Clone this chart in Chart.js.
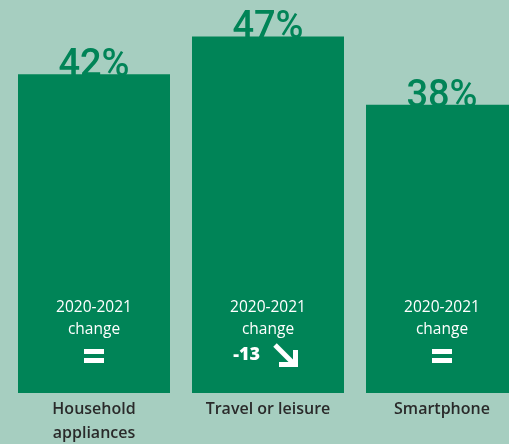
<!DOCTYPE html>
<html lang="en">
<head>
<meta charset="utf-8" />
<title>Share by category</title>
<script src="https://cdn.jsdelivr.net/npm/chart.js@4.4.1/dist/chart.umd.min.js"></script>
<style>
  html, body { margin: 0; padding: 0; background: #a6cec0; overflow: hidden; }
  #wrap { width: 536px; height: 444px; }
</style>
</head>
<body>
<div id="wrap"><canvas id="chart"></canvas></div>
<script>
// categories and values
var categories = [["Household", "appliances"], "Travel or leisure", "Smartphone"];
var shares = [42, 47, 38];
var shareLabels = ["42%", "47%", "38%"];
// 2020-2021 change in points (0 = unchanged)
var changes = [0, -13, 0];

var green = "#008457";

// percentage above each bar, drawn before the bars so the bar covers its foot
var topLabels = {
  id: "topLabels",
  beforeDatasetsDraw: function(chart) {
    var ctx = chart.ctx;
    var bars = chart.getDatasetMeta(0).data;
    ctx.save();
    ctx.fillStyle = green;
    ctx.font = "500 38px Roboto";
    ctx.textAlign = "center";
    ctx.textBaseline = "alphabetic";
    bars.forEach(function(bar, i) {
      ctx.fillText(shareLabels[i], bar.x, bar.y + 2);
    });
    ctx.restore();
  }
};

// "2020-2021 change" block inside each bar
var changeLabels = {
  id: "changeLabels",
  afterDatasetsDraw: function(chart) {
    var ctx = chart.ctx;
    var bars = chart.getDatasetMeta(0).data;
    var base = chart.scales.y.getPixelForValue(0);
    ctx.save();
    ctx.fillStyle = "#ffffff";
    ctx.strokeStyle = "#ffffff";
    bars.forEach(function(bar, i) {
      var cx = bar.x;
      ctx.textAlign = "center";
      ctx.textBaseline = "alphabetic";
      ctx.font = "500 15.5px 'Open Sans'";
      ctx.fillText("2020-2021", cx, base - 81);
      ctx.fillText("change", cx, base - 59);
      if (changes[i] === 0) {
        // equals sign
        ctx.fillRect(cx - 10, base - 44, 20, 5);
        ctx.fillRect(cx - 10, base - 35, 20, 5);
      } else {
        ctx.font = "800 18px 'Open Sans'";
        ctx.textAlign = "right";
        ctx.fillText(String(changes[i]), cx - 8, base - 33);
        // down-right arrow
        ctx.lineWidth = 5;
        ctx.lineCap = "butt";
        ctx.lineJoin = "miter";
        ctx.beginPath();
        ctx.moveTo(cx + 7, base - 48);
        ctx.lineTo(cx + 26, base - 29);
        ctx.stroke();
        ctx.beginPath();
        ctx.moveTo(cx + 11, base - 28.5);
        ctx.lineTo(cx + 27.5, base - 28.5);
        ctx.lineTo(cx + 27.5, base - 43);
        ctx.stroke();
      }
    });
    ctx.restore();
  }
};

new Chart(document.getElementById("chart"), {
  type: "bar",
  data: {
    labels: categories,
    datasets: [{
      data: shares,
      backgroundColor: green,
      borderWidth: 0,
      categoryPercentage: 152 / 174,
      barPercentage: 1
    }]
  },
  options: {
    responsive: true,
    maintainAspectRatio: false,
    animation: false,
    layout: { padding: { left: 7, right: 7, top: 0, bottom: -5 } },
    plugins: { legend: { display: false }, tooltip: { enabled: false } },
    scales: {
      x: {
        grid: { display: false, drawTicks: false },
        border: { display: false },
        ticks: {
          color: "#2a2a2a",
          font: { family: "'Open Sans'", size: 16, weight: 600, lineHeight: 1.5 },
          padding: 4,
          maxRotation: 0,
          autoSkip: false
        }
      },
      y: {
        display: false,
        min: 0,
        max: 51.8
      }
    }
  },
  plugins: [topLabels, changeLabels]
});
</script>
</body>
</html>
